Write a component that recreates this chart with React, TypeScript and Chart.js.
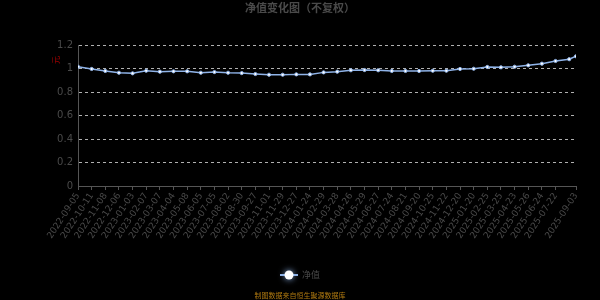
import React, { useEffect, useRef } from "react";
import { Chart, registerables } from "chart.js";

Chart.register(...registerables);

// x-axis tick labels (dates) and their index in the weekly series
const tickLabels = [
  "2022-09-05", "2022-10-11", "2022-11-08", "2022-12-06", "2023-01-03", "2023-02-07",
  "2023-03-07", "2023-04-04", "2023-05-08", "2023-06-05", "2023-07-05", "2023-08-02",
  "2023-08-30", "2023-09-27", "2023-11-01", "2023-11-29", "2023-12-27", "2024-01-24",
  "2024-02-29", "2024-03-28", "2024-04-26", "2024-05-29", "2024-06-27", "2024-07-24",
  "2024-08-21", "2024-09-20", "2024-10-25", "2024-11-22", "2024-12-20", "2025-01-20",
  "2025-02-25", "2025-03-25", "2025-04-23", "2025-05-26", "2025-06-24", "2025-07-22",
  "2025-09-03",
];
const tickIdx = [
  0, 4, 8, 12, 16, 20, 24, 28, 32, 36, 40, 44, 48, 52, 56, 60, 64, 68, 72, 76, 80, 84,
  88, 92, 96, 100, 104, 108, 112, 116, 120, 124, 128, 132, 136, 140, 146,
];

// series: index in the weekly series and net value
const pointIdx = [
  0, 4, 8, 12, 16, 20, 24, 28, 32, 36, 40, 44, 48, 52, 56, 60, 64, 68, 72, 76, 80, 84,
  88, 92, 96, 100, 104, 108, 112, 116, 120, 124, 128, 132, 136, 140, 144, 146,
];
const navValues = [
  1.015, 0.996, 0.979, 0.964, 0.959, 0.981, 0.973, 0.976, 0.976, 0.964, 0.970, 0.964,
  0.961, 0.953, 0.947, 0.947, 0.950, 0.950, 0.967, 0.973, 0.985, 0.987, 0.985, 0.979,
  0.979, 0.979, 0.981, 0.981, 0.996, 0.998, 1.013, 1.010, 1.015, 1.027, 1.041, 1.064,
  1.079, 1.104,
];

const seriesName = "净值";
const titleText = "净值变化图（不复权）";
const unitText = "元";
const footerText = "制图数据来自恒生聚源数据库";

const LINE = "#8fb3e8";
const TEXT = "#4a4a4a";
const CJK = '"Noto Sans CJK SC", "Noto Sans", sans-serif';
const SANS = '"DejaVu Sans", sans-serif';

const decorPlugin = {
  id: "decor",
  beforeDraw(chart: any) {
    const { ctx, width, height } = chart;
    ctx.save();
    ctx.fillStyle = "#000";
    ctx.fillRect(0, 0, width, height);
    ctx.restore();
  },
  afterDraw(chart: any) {
    const { ctx } = chart;
    ctx.save();
    // title
    ctx.fillStyle = TEXT;
    ctx.font = `bold 11px ${CJK}`;
    ctx.textAlign = "center";
    ctx.textBaseline = "middle";
    ctx.fillText(titleText, 300, 8);
    // unit
    ctx.save();
    ctx.translate(56, 60);
    ctx.rotate(-Math.PI / 2);
    ctx.fillStyle = "#a00000";
    ctx.font = `8px ${CJK}`;
    ctx.fillText(unitText, 0, 0);
    ctx.restore();
    // legend
    ctx.strokeStyle = LINE;
    ctx.lineWidth = 2;
    ctx.beginPath();
    ctx.moveTo(280, 275);
    ctx.lineTo(298, 275);
    ctx.stroke();
    ctx.save();
    ctx.shadowColor = LINE;
    ctx.shadowBlur = 6;
    ctx.fillStyle = "#fff";
    ctx.beginPath();
    ctx.arc(289, 275, 4.5, 0, Math.PI * 2);
    ctx.fill();
    ctx.restore();
    ctx.fillStyle = TEXT;
    ctx.font = `9px ${CJK}`;
    ctx.textAlign = "left";
    ctx.fillText(seriesName, 302, 275);
    // footer
    ctx.fillStyle = "#b07a10";
    ctx.font = `7px ${CJK}`;
    ctx.textAlign = "center";
    ctx.fillText(footerText, 300, 295);
    ctx.restore();
  },
};

export default function App() {
  const ref = useRef<HTMLCanvasElement | null>(null);

  useEffect(() => {
    document.body.style.margin = "0";
    document.body.style.background = "#000";
    const canvas = ref.current;
    if (!canvas) return;
    const chart = new Chart(canvas, {
      type: "line",
      data: {
        datasets: [
          {
            label: seriesName,
            data: pointIdx.map((x, i) => ({ x, y: navValues[i] })),
            borderColor: LINE,
            borderWidth: 1.5,
            pointRadius: 1.6,
            pointBorderWidth: 1,
            pointBackgroundColor: "#ffffff",
            pointBorderColor: LINE,
            tension: 0,
          },
        ],
      },
      options: {
        animation: false,
        responsive: false,
        devicePixelRatio: 1,
        layout: { padding: { left: 0, right: 24, top: 45, bottom: 0 } },
        plugins: {
          legend: { display: false },
          title: { display: false },
          tooltip: { enabled: false },
        },
        scales: {
          x: {
            type: "linear",
            min: 0,
            max: 146,
            afterBuildTicks: (s: any) => {
              s.ticks = tickIdx.map((v) => ({ value: v }));
            },
            afterFit: (s: any) => {
              s.height = 114;
            },
            ticks: {
              autoSkip: false,
              minRotation: 57,
              maxRotation: 57,
              padding: 1,
              color: TEXT,
              font: { family: SANS, size: 9 },
              callback: (_v: any, i: number) => tickLabels[i] ?? "",
            },
            grid: {
              drawOnChartArea: false,
              drawTicks: true,
              tickLength: 4,
              color: "#555",
            },
            border: { color: "#555", width: 1 },
          },
          y: {
            min: 0,
            max: 1.2,
            afterFit: (s: any) => {
              s.width = 78;
            },
            ticks: {
              stepSize: 0.2,
              padding: 5,
              color: TEXT,
              font: { family: SANS, size: 10 },
              callback: (v: any) => String(Number(Number(v).toFixed(1))),
            },
            grid: {
              drawTicks: false,
              color: (c: any) => (c.tick && c.tick.value === 0 ? "transparent" : "#b0b0b0"),
              lineWidth: 1,
            },
            border: { color: "#555", width: 1, dash: [3, 3] },
          },
        },
      },
      plugins: [decorPlugin],
    });
    return () => chart.destroy();
  }, []);

  return (
    <div style={{ width: 600, height: 300, background: "#000" }}>
      <canvas ref={ref} width={600} height={300} style={{ display: "block" }} />
    </div>
  );
}
